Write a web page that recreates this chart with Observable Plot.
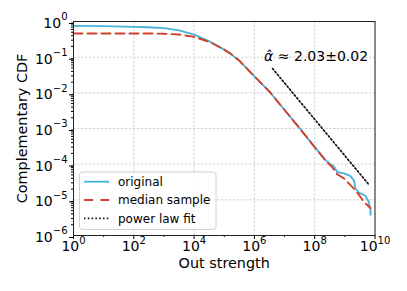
<!DOCTYPE html>
<html><head><meta charset="utf-8">
<script src="https://cdn.jsdelivr.net/npm/d3@7"></script>
<script src="https://cdn.jsdelivr.net/npm/@observablehq/plot@0.6"></script>
<style>
body{margin:0;background:#fff}
#chart{position:relative;width:407px;height:291px}
</style>
</head><body><div id="chart"></div>
<script>
// ---- data ----
const strengthOriginal = [1, 10, 100, 300, 1e3, 3.2e3, 1e4, 3.2e4, 1e5, 1.6e5, 3.2e5, 1e6, 3.2e6, 1e7, 3.2e7, 1e8, 2.3e8, 3.3e8, 4.3e8, 5.6e8, 9.3e8, 1.55e9, 2e9, 2.24e9, 2.9e9, 4.8e9, 6.2e9, 7.1e9, 7.1e9];
const ccdfOriginal     = [0.75, 0.74, 0.71, 0.69, 0.65, 0.56, 0.43, 0.28, 0.163, 0.126, 0.079, 0.029, 0.0107, 0.0033, 0.001, 3.0e-4, 1.3e-4, 1.0e-4, 8.7e-5, 6.0e-5, 5.5e-5, 4.6e-5, 3.5e-5, 2.1e-5, 1.6e-5, 1.3e-5, 8.7e-6, 5.1e-6, 3.8e-6];
const strengthMedian = [1, 10, 100, 300, 1e3, 3.2e3, 1e4, 3.2e4, 1e5, 1.6e5, 3.2e5, 1e6, 3.2e6, 1e7, 3.2e7, 1e8, 2.3e8, 3.8e8, 4.9e8, 5.6e8, 9.3e8, 1.3e9, 2.24e9, 2.9e9, 4.3e9, 7.1e9];
const ccdfMedian     = [0.46, 0.46, 0.46, 0.46, 0.455, 0.43, 0.37, 0.27, 0.162, 0.126, 0.079, 0.029, 0.0107, 0.0033, 0.001, 3.0e-4, 1.25e-4, 8.3e-5, 6.0e-5, 5.2e-5, 4.0e-5, 3.0e-5, 1.86e-5, 1.4e-5, 8.7e-6, 5.9e-6];
const fitStrength = [4e6, 6.2e9];
const fitCcdf     = [0.048, 2.7e-5];
const annotationAlpha = "\u03B1\u0302";
const annotationValue = " \u2248 2.03\u00B10.02";
const annotationPos = {strength: 2.1e6, ccdf: 0.106};
const xTicks = [1, 1e2, 1e4, 1e6, 1e8, 1e10];
const xMinorTicks = [10, 1e3, 1e5, 1e7, 1e9];
const yTicks = [1e-6, 1e-5, 1e-4, 1e-3, 1e-2, 1e-1, 1];
const seriesNames = ["original", "median sample", "power law fit"];
const xLabel = "Out strength";
const yLabel = "Complementary CDF";

// ---- styling ----
const colors = {original: "#45b2dc", median: "#d0402b", fit: "#111"};
const yMinorTicks = [];
for (let e = -6; e < 0; e++) for (let m = 2; m <= 9; m++) yMinorTicks.push(m * Math.pow(10, e));

const orig = strengthOriginal.map((s, i) => ({s, c: ccdfOriginal[i]}));
const med = strengthMedian.map((s, i) => ({s, c: ccdfMedian[i]}));
const fit = fitStrength.map((s, i) => ({s, c: fitCcdf[i]}));
const fmt = d => "10^" + Math.round(Math.log10(d));

const plot = Plot.plot({
  width: 407, height: 291,
  marginLeft: 73, marginRight: 32.5, marginTop: 21, marginBottom: 56,
  style: {fontFamily: "DejaVu Sans", fontSize: "14px", background: "#fff", color: "#000"},
  x: {type: "log", domain: [1, 1e10]},
  y: {type: "log", domain: [1e-6, 1]},
  marks: [
    Plot.gridX({ticks: xTicks, stroke: "#c8c8c8", strokeOpacity: 1, strokeWidth: 0.8, strokeDasharray: "2.5,1.5"}),
    Plot.gridY({ticks: yTicks, stroke: "#c8c8c8", strokeOpacity: 1, strokeWidth: 0.8, strokeDasharray: "2.5,1.5"}),
    Plot.axisX({ticks: xTicks, tickFormat: fmt, tickSize: 4, tickPadding: 2, fontSize: 14, label: null, stroke: "#000"}),
    Plot.axisX({ticks: xMinorTicks, tickFormat: () => "", tickSize: 2, label: null, stroke: "#000"}),
    Plot.axisY({ticks: yTicks, tickFormat: fmt, tickSize: 4, tickPadding: 2, fontSize: 14, label: null, stroke: "#000", dy: 2}),
    Plot.axisY({ticks: yMinorTicks, tickFormat: () => "", tickSize: 2, label: null, stroke: "#000"}),
    Plot.line(orig, {x: "s", y: "c", stroke: colors.original, strokeWidth: 1.8}),
    Plot.line(med, {x: "s", y: "c", stroke: colors.median, strokeWidth: 1.9, strokeDasharray: "9,5"}),
    Plot.line(fit, {x: "s", y: "c", stroke: colors.fit, strokeWidth: 1.7, strokeDasharray: "1.5,2.3"}),
    Plot.text([annotationAlpha + annotationValue], {x: () => annotationPos.strength, y: () => annotationPos.ccdf, textAnchor: "start", fontSize: 14, fill: "#000"}),
    Plot.text([xLabel], {frameAnchor: "bottom", textAnchor: "middle", dy: 32, fontSize: 14.4, fill: "#000"}),
    Plot.text([yLabel], {frameAnchor: "left", textAnchor: "middle", dx: -51, rotate: -90, fontSize: 14.4, fill: "#000"}),
    Plot.frame({stroke: "#222", strokeWidth: 1})
  ]
});

const ns = "http://www.w3.org/2000/svg";
plot.querySelectorAll("text").forEach(t => {
  const m = /^10\^(-?\d+)$/.exec(t.textContent);
  if (m) {
    const e = m[1].replace("-", "\u2212");
    t.textContent = "";
    const a = document.createElementNS(ns, "tspan"); a.textContent = "10";
    const b = document.createElementNS(ns, "tspan"); b.textContent = e;
    b.setAttribute("dy", "-7.5"); b.setAttribute("font-size", "10");
    t.append(a, b);
  } else if (t.textContent === annotationAlpha + annotationValue) {
    t.textContent = "";
    const a = document.createElementNS(ns, "tspan"); a.textContent = annotationAlpha; a.setAttribute("font-style", "italic");
    const b = document.createElementNS(ns, "tspan"); b.textContent = annotationValue;
    t.append(a, b);
  }
});

// legend
const lg = d3.select(plot).append("g").attr("font-family", "DejaVu Sans").attr("font-size", 12).attr("text-anchor", "start");
lg.append("rect").attr("x", 79.5).attr("y", 172).attr("width", 136.5).attr("height", 57.5).attr("rx", 3)
  .attr("fill", "#fff").attr("fill-opacity", 0.8).attr("stroke", "#d0d0d0").attr("stroke-width", 1);
const legendStyles = [
  {stroke: colors.original, dash: null, w: 1.8},
  {stroke: colors.median, dash: "9,7.5", w: 1.9},
  {stroke: colors.fit, dash: "1.5,2.3", w: 1.7}
];
seriesNames.forEach((name, i) => {
  const y = 181.7 + i * 18.3;
  const st = legendStyles[i];
  const l = lg.append("line").attr("x1", 84).attr("x2", 109).attr("y1", y).attr("y2", y)
    .attr("stroke", st.stroke).attr("stroke-width", st.w);
  if (st.dash) l.attr("stroke-dasharray", st.dash);
  lg.append("text").attr("x", 118).attr("y", y).attr("dy", "0.35em").attr("fill", "#000").attr("text-anchor", "start").text(name);
});

document.getElementById("chart").append(plot);
</script>
</body></html>
